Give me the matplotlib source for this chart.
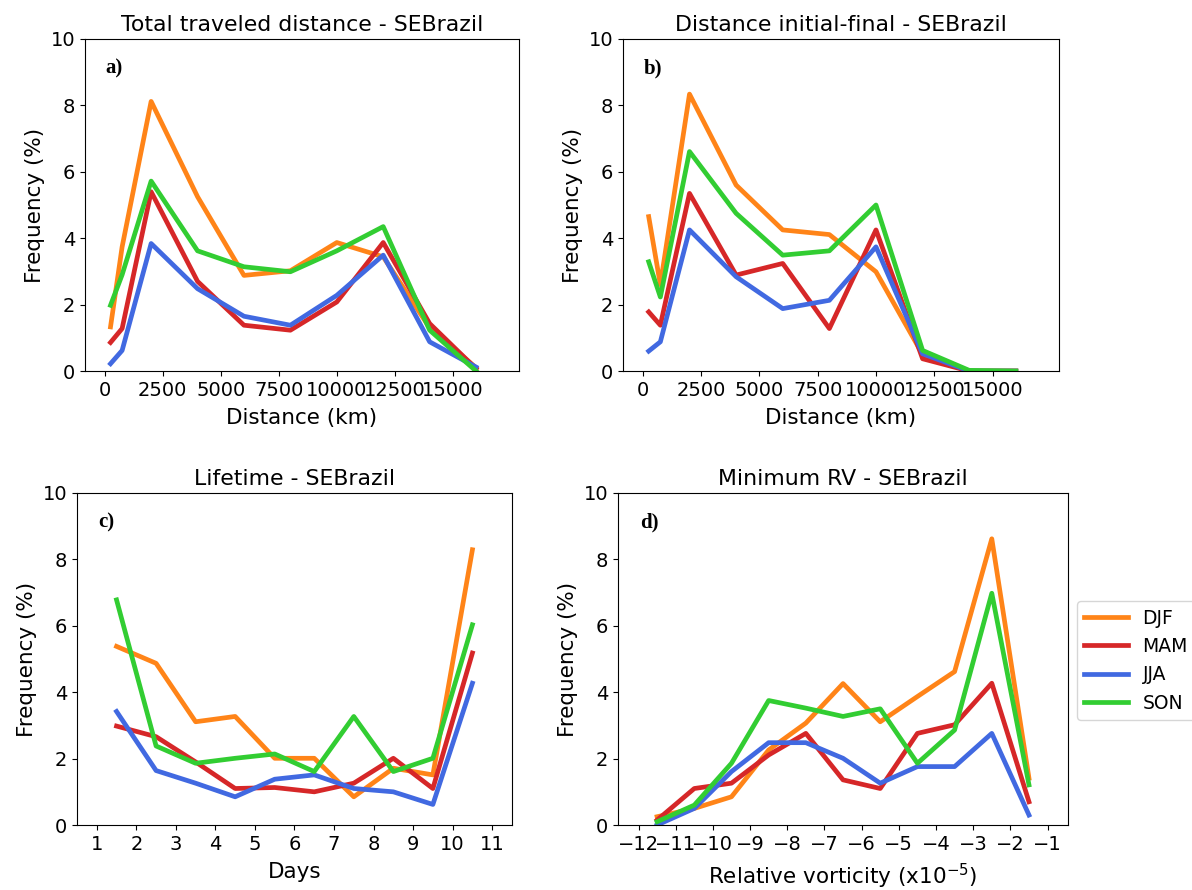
import matplotlib
matplotlib.use("Agg")
from matplotlib import pyplot as plt

seasons = ["DJF", "MAM", "JJA", "SON"]
colors = ["#ff8418", "#d62728", "#4169e1", "#32cd32"]

# a) total traveled distance
dist_x = [250, 750, 2000, 4000, 6000, 8000, 10000, 12000, 14000, 16000]
total_dist = {
    "DJF": [1.33, 3.74, 8.12, 5.25, 2.88, 3.02, 3.87, 3.44, 1.3, 0.1],
    "MAM": [0.86, 1.28, 5.4, 2.7, 1.38, 1.23, 2.08, 3.87, 1.43, 0.07],
    "JJA": [0.22, 0.62, 3.84, 2.48, 1.65, 1.38, 2.28, 3.49, 0.88, 0.12],
    "SON": [1.98, 2.9, 5.72, 3.62, 3.14, 2.99, 3.62, 4.35, 1.23, 0.0],
}

# b) distance initial-final
init_final = {
    "DJF": [4.65, 2.6, 8.34, 5.6, 4.25, 4.11, 2.99, 0.5, 0.0, 0.0],
    "MAM": [1.78, 1.38, 5.35, 2.89, 3.24, 1.28, 4.25, 0.37, 0.0, 0.0],
    "JJA": [0.6, 0.88, 4.25, 2.84, 1.88, 2.13, 3.74, 0.52, 0.0, 0.0],
    "SON": [3.29, 2.23, 6.61, 4.75, 3.49, 3.62, 5.0, 0.62, 0.02, 0.0],
}

# c) lifetime
days = [1.5, 2.5, 3.5, 4.5, 5.5, 6.5, 7.5, 8.5, 9.5, 10.5]
lifetime = {
    "DJF": [5.38, 4.87, 3.11, 3.27, 2.01, 2.01, 0.85, 1.71, 1.51, 8.29],
    "MAM": [2.98, 2.66, 1.9, 1.1, 1.13, 1.0, 1.26, 2.01, 1.1, 5.18],
    "JJA": [3.42, 1.64, 1.26, 0.85, 1.38, 1.51, 1.1, 1.0, 0.62, 4.27],
    "SON": [6.78, 2.38, 1.86, 2.01, 2.14, 1.61, 3.27, 1.61, 2.01, 6.03],
}

# d) minimum relative vorticity
rv = [-11.5, -10.5, -9.5, -8.5, -7.5, -6.5, -5.5, -4.5, -3.5, -2.5, -1.5]
min_rv = {
    "DJF": [0.25, 0.5, 0.85, 2.26, 3.07, 4.26, 3.11, 3.87, 4.62, 8.62, 1.41],
    "MAM": [0.15, 1.1, 1.26, 2.11, 2.76, 1.36, 1.1, 2.76, 3.02, 4.27, 0.7],
    "JJA": [0.0, 0.5, 1.61, 2.48, 2.48, 2.01, 1.26, 1.76, 1.76, 2.76, 0.3],
    "SON": [0.1, 0.6, 1.86, 3.75, 3.52, 3.27, 3.5, 1.86, 2.86, 6.98, 1.21],
}

fig = plt.figure(figsize=(11.92, 8.9), dpi=100)

panels = [
    ([0.0713, 0.5831, 0.3641, 0.3731], dist_x, total_dist,
     "Total traveled distance - SEBrazil", "Distance (km)", "a)"),
    ([0.5227, 0.5831, 0.3657, 0.3731], dist_x, init_final,
     "Distance initial-final - SEBrazil", "Distance (km)", "b)"),
    ([0.0646, 0.0730, 0.3649, 0.3731], days, lifetime,
     "Lifetime - SEBrazil", "Days", "c)"),
    ([0.5185, 0.0730, 0.3775, 0.3731], rv, min_rv,
     "Minimum RV - SEBrazil", r"Relative vorticity (x10$^{-5}$)", "d)"),
]

for rect, x, data, title, xlabel, tag in panels:
    ax = fig.add_axes(rect)
    for s, c in zip(seasons, colors):
        ax.plot(x, data[s], color=c, lw=3.4, label=s)
    ax.set_ylim(0, 10)
    ax.set_yticks([0, 2, 4, 6, 8, 10])
    ax.set_title(title, fontsize=15.8)
    ax.set_xlabel(xlabel, fontsize=15.5, labelpad=6)
    ax.set_ylabel("Frequency (%)", fontsize=15.5)
    ax.tick_params(labelsize=14)
    ax.text(0.048, 0.94, tag, transform=ax.transAxes, va="top", ha="left",
            fontsize=15, fontweight="bold", family="Liberation Serif")
    if tag in ("a)", "b)"):
        ax.set_xlim(-850, 17850)
        ax.set_xticks([0, 2500, 5000, 7500, 10000, 12500, 15000])
    elif tag == "c)":
        ax.set_xlim(0.5, 11.5)
        ax.set_xticks(range(1, 12))
    else:
        ax.set_xlim(-12.55, -0.45)
        ax.set_xticks(range(-12, 0))

handles, labels = ax.get_legend_handles_labels()
fig.legend(handles, labels, loc="upper left", bbox_to_anchor=(0.9035, 0.3247),
           fontsize=13.5, handlelength=2.3, borderaxespad=0)

fig.savefig("out.png", dpi=100)
